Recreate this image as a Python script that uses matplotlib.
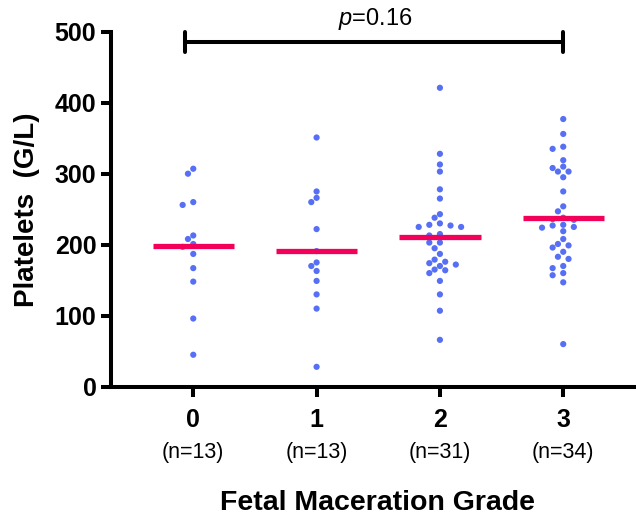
import numpy as np
import matplotlib
matplotlib.use('Agg')
import matplotlib.pyplot as plt

plt.rcParams['font.family'] = ['Liberation Sans', 'DejaVu Sans']
plt.rcParams['mathtext.fontset'] = 'custom'
plt.rcParams['mathtext.it'] = 'Liberation Sans:italic'
plt.rcParams['mathtext.rm'] = 'Liberation Sans'

# data
grades = [0, 1, 2, 3]
grade_labels = ['0', '1', '2', '3']
n_labels = ['(n=13)', '(n=13)', '(n=31)', '(n=34)']

grade0 = [307, 300, 260, 256, 213, 208, 201, 197, 187, 167, 148, 96, 45]
grade1 = [351, 275, 266, 260, 222, 191, 175, 170, 163, 149, 130, 110, 28]
grade2 = [421, 328, 313, 303, 278, 265, 243, 238, 230, 228, 227, 225, 225,
          215, 213, 203, 203, 195, 187, 179, 176, 174, 172, 170, 165, 164,
          160, 149, 130, 107, 66]
grade3 = [377, 356, 338, 335, 319, 310, 308, 303, 303, 295, 275, 254, 247,
          238, 236, 235, 228, 227, 225, 224, 219, 208, 201, 199, 196, 190,
          183, 180, 170, 167, 160, 157, 147, 60]
groups = [grade0, grade1, grade2, grade3]
p_text = '$p$=0.16'

DOT = '#566ff5'
MEAN = '#f2005a'


def swarm_offsets(values, step=0.043, x_px=123.3, y_px=0.71, min_dist=6.3):
    # simple beeswarm: try centre first, then alternate left/right
    placed = []
    offsets = []
    cands = [0]
    for i in range(1, 12):
        cands += [-i, i]
    for v in values:
        for c in cands:
            ok = True
            for pc, pv in placed:
                dx = (c - pc) * step * x_px
                dy = (v - pv) * y_px
                if dx * dx + dy * dy < min_dist ** 2:
                    ok = False
                    break
            if ok:
                break
        placed.append((c, v))
        offsets.append(c * step)
    return np.array(offsets)


fig = plt.figure(figsize=(6.36, 5.17), dpi=100)
ax = fig.add_axes([111 / 636, 130.3 / 517, 525 / 636, 355 / 517])

for g, vals in zip(grades, groups):
    vals = np.array(vals, dtype=float)
    xs = g + swarm_offsets(vals)
    ax.scatter(xs, vals, s=20, color=DOT, edgecolors='none', zorder=3, clip_on=False)
    m = vals.mean()
    ax.plot([g - 0.33, g + 0.33], [m, m], color=MEAN, lw=3.8, zorder=4, solid_capstyle='butt')

ax.set_xlim(-0.667, 3.59)
ax.set_ylim(0, 500)
ax.set_xticks(grades)
ax.set_xticklabels(grade_labels, fontsize=18, fontweight='bold')
ax.set_yticks([0, 100, 200, 300, 400, 500])
ax.set_yticklabels(['0', '100', '200', '300', '400', '500'], fontsize=18, fontweight='bold')

for side in ['top', 'right']:
    ax.spines[side].set_visible(False)
for side in ['left', 'bottom']:
    ax.spines[side].set_linewidth(2.9)
ax.tick_params(axis='both', width=2.9, length=7.5)
ax.tick_params(axis='x', pad=8)
ax.tick_params(axis='y', pad=3)

for g, lab in zip(grades, n_labels):
    ax.text(g, -0.186, lab, transform=ax.get_xaxis_transform(), ha='center', va='center', fontsize=15.5)

# significance bracket
bx0 = grades[0] - 0.07
bx1 = grades[-1]
ax.plot([bx0, bx1], [486, 486], color='black', lw=2.9, clip_on=False, zorder=5)
ax.plot([bx0, bx0], [472, 500], color='black', lw=2.9, clip_on=False, solid_capstyle='round', zorder=5)
ax.plot([bx1, bx1], [472, 500], color='black', lw=2.9, clip_on=False, solid_capstyle='round', zorder=5)
fig.text(375 / 636, 1 - 19 / 517, p_text, ha='center', va='center', fontsize=17)

fig.text(378 / 636, 1 - 503 / 517, 'Fetal Maceration Grade', ha='center', va='center',
         fontsize=20.5, fontweight='bold')
fig.text(27 / 636, 1 - 210 / 517, 'Platelets  (G/L)', ha='center', va='center',
         rotation=90, fontsize=20, fontweight='bold')

fig.savefig('out.png', dpi=100)
